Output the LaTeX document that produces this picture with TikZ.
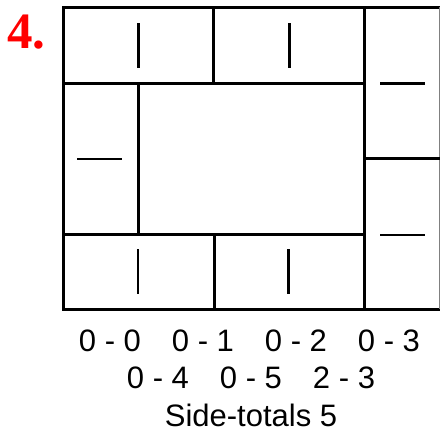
\documentclass[tikz,border=0pt]{standalone}
\usepackage{fontspec}
\setmainfont{Liberation Sans}
\newfontfamily\numfont{Liberation Serif}
\definecolor{numred}{RGB}{255,0,0}
\tikzset{
  frame/.style={line width=3pt, line cap=rect},
  tick/.style={line width=2.5pt},
  pair/.style={anchor=base, inner sep=0pt, font=\fontsize{31}{31}\selectfont},
}
\begin{document}
\begin{tikzpicture}[x=1pt,y=-1pt]
\useasboundingbox (0,0) rectangle (440,434);
\begin{scope}
\clip (0,0) rectangle (440,434);
% outer frame
\draw[frame] (63,7) -- (440,7);
\draw[frame] (63,7) -- (63,309);
\draw[frame] (63,309) -- (440,309);
\draw[line width=2pt, gray] (440,7) -- (440,309);
% inner lines
\draw[frame] (63,83) -- (364,83);
\draw[frame] (213,7) -- (213,83);
\draw[frame] (364,7) -- (364,309);
\draw[frame] (364,158) -- (440,158);
\draw[frame] (138,83) -- (138,234);
\draw[frame] (63,234) -- (364,234);
\draw[frame] (214,234) -- (214,309);
\end{scope}
% ticks
\draw[tick] (138.7,23) -- (138.7,68);
\draw[tick] (289.3,23) -- (289.3,68);
\draw[tick] (77,159) -- (122,159);
\draw[tick] (380,83.5) -- (425,83.5);
\draw[tick] (380,235) -- (425,235);
\draw[tick] (138,249) -- (138,294);
\draw[tick] (288.7,249) -- (288.7,294);
% label
\node[anchor=base west, inner sep=0pt, text=numred, font=\numfont\bfseries\fontsize{51}{51}\selectfont] (num) at (7,48) {4.};
% pairs
\node[pair] (p1) at (110,351) {0 - 0};
\node[pair] (p2) at (203,351) {0 - 1};
\node[pair] (p3) at (296,351) {0 - 2};
\node[pair] (p4) at (389,351) {0 - 3};
\node[pair] (p5) at (158,388) {0 - 4};
\node[pair] (p6) at (251,388) {0 - 5};
\node[pair] (p7) at (344,388) {2 - 3};
\node[pair] (cap) at (251,426) {Side-totals 5};
\end{tikzpicture}
\end{document}
